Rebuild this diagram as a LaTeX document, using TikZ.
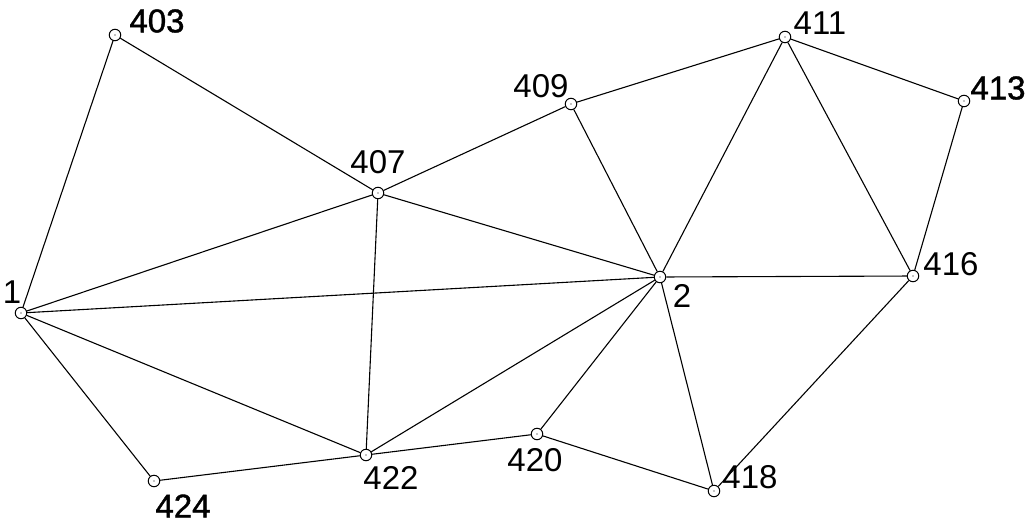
\documentclass[tikz,border=0pt]{standalone}
\usepackage{fontspec}
\setmainfont{Liberation Sans}
\begin{document}
\begin{tikzpicture}[x=1pt,y=-1pt,
  pt/.style={circle,draw,line width=1pt,minimum size=11.5pt,inner sep=0pt,fill=white},
  lbl/.style={font=\fontsize{33}{33}\selectfont,inner sep=0pt,anchor=center},
  lblb/.style={font=\fontsize{33}{33}\selectfont\addfontfeature{FakeBold=1.2},inner sep=0pt,anchor=center},
  edge/.style={line width=1.1pt}]
\useasboundingbox (0,0) rectangle (1026,523);
\node[pt] (p403) at (115,35) {};
\node[pt] (p407) at (378,193) {};
\node[pt] (p409) at (571,104) {};
\node[pt] (p411) at (785,37) {};
\node[pt] (p413) at (964,101) {};
\node[pt] (p416) at (913,276) {};
\node[pt] (p2) at (660,277) {};
\node[pt] (p1) at (21,313) {};
\node[pt] (p424) at (154,481) {};
\node[pt] (p422) at (366,455) {};
\node[pt] (p420) at (537,434) {};
\node[pt] (p418) at (714,491) {};
\foreach \n in {p403,p407,p409,p411,p413,p416,p2,p1,p424,p422,p420,p418}
  \fill (\n.center) circle (0.7pt);
\foreach \a/\b in {p1/p403,p403/p407,p1/p407,p1/p2,p1/p422,p1/p424,p424/p422,p407/p422,
  p407/p409,p407/p2,p409/p411,p409/p2,p411/p2,p411/p413,p411/p416,p413/p416,p2/p416,
  p2/p422,p2/p420,p2/p418,p420/p422,p420/p418,p418/p416}
  \draw[edge] (\a) -- (\b);
\node[lblb] (t403) at (157,21) {403};
\node[lbl] (t407) at (378,162) {407};
\node[lbl] (t409) at (541,86) {409};
\node[lbl] (t411) at (820,23) {411};
\node[lblb] (t413) at (998,88) {413};
\node[lbl] (t416) at (951,264) {416};
\node[lbl] (t2) at (682,296) {2};
\node[lbl] (t1) at (12,292) {1};
\node[lblb] (t424) at (183,506) {424};
\node[lbl] (t422) at (391,478) {422};
\node[lbl] (t420) at (535,460) {420};
\node[lbl] (t418) at (750,477) {418};
\end{tikzpicture}
\end{document}
